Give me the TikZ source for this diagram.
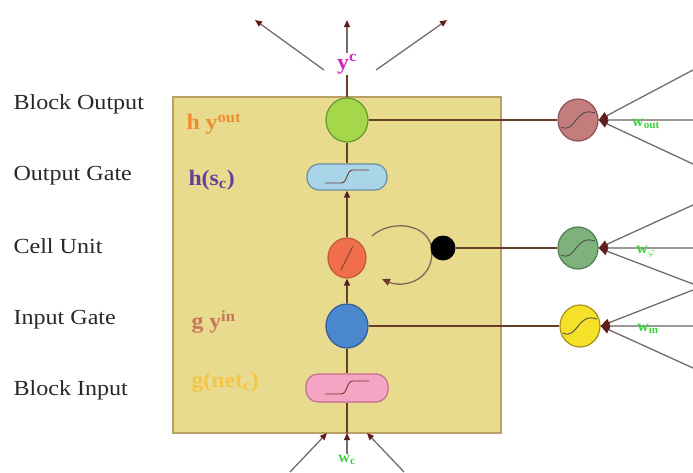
\documentclass[tikz,border=0pt]{standalone}
\usepackage{fontspec}
\setmainfont{Liberation Serif}
\newfontfamily\lblfont[FakeStretch=1.12]{Liberation Serif}
\newfontfamily\inlfont[FakeStretch=1.08]{Liberation Serif}
\usetikzlibrary{shapes.geometric,arrows.meta}
\definecolor{boxfill}{RGB}{233,219,142}
\definecolor{boxedge}{RGB}{185,160,100}
\definecolor{wirec}{RGB}{105,62,40}
\definecolor{greyc}{RGB}{115,108,104}
\definecolor{tipc}{RGB}{95,30,30}
\definecolor{textc}{RGB}{40,40,40}
\definecolor{bofill}{RGB}{165,215,75}
\definecolor{boedge}{RGB}{100,150,50}
\definecolor{ogfill}{RGB}{170,212,232}
\definecolor{ogedge}{RGB}{110,140,160}
\definecolor{cellfill}{RGB}{240,110,75}
\definecolor{celledge}{RGB}{190,90,60}
\definecolor{igfill}{RGB}{75,135,205}
\definecolor{igedge}{RGB}{50,90,150}
\definecolor{bifill}{RGB}{245,165,195}
\definecolor{biedge}{RGB}{195,110,140}
\definecolor{routfill}{RGB}{195,125,125}
\definecolor{routedge}{RGB}{140,80,80}
\definecolor{rphifill}{RGB}{125,178,125}
\definecolor{rphiedge}{RGB}{80,125,80}
\definecolor{rinfill}{RGB}{245,225,40}
\definecolor{rinedge}{RGB}{165,145,30}
\definecolor{hyout}{RGB}{240,140,50}
\definecolor{hsc}{RGB}{105,60,155}
\definecolor{gyin}{RGB}{200,120,90}
\definecolor{gnet}{RGB}{246,196,70}
\definecolor{ycc}{RGB}{210,40,190}
\definecolor{wgreen}{RGB}{60,210,60}
\begin{document}
\begin{tikzpicture}[x=1pt,y=-1pt,
  vline/.style={draw=wirec, line width=1.6pt},
  wire/.style={draw=wirec, line width=2.2pt},
  gline/.style={draw=greyc, line width=1.3pt},
  hline/.style={draw=greyc!70, line width=1.3pt},
  arr/.style={-{Triangle[length=7pt,width=6pt,color=tipc]}},
  bigarr/.style={-{Triangle[length=9pt,width=8pt,color=tipc]}},
  disc/.style={ellipse, inner sep=0pt, line width=1.2pt},
  pill/.style={rectangle, rounded corners=12pt, inner sep=0pt, line width=1.2pt},
  sidelbl/.style={anchor=west, text=textc, font=\lblfont\fontsize{21.5}{25}\selectfont},
  inlbl/.style={anchor=west, font=\inlfont\bfseries\fontsize{22}{26}\selectfont},
  wlbl/.style={text=wgreen, font=\bfseries\fontsize{16}{18}\selectfont, inner sep=1pt},
  sigp/.pic={\draw[wirec, line width=0.9pt] (-22,6) -- (-6,6) .. controls (1,6) and (-1,-7) .. (6,-7) -- (22,-7);},
  sigc/.pic={\draw[black!70, line width=0.9pt] (-17,7) .. controls (-2,14) and (-3,-14) .. (17,-7);},
  slashp/.pic={\draw[celledge!80!black, line width=1.2pt] (-6,12) -- (6,-12);}
]
\useasboundingbox (0,0) rectangle (693,472);

% main box
\node[draw=boxedge, fill=boxfill, line width=1.5pt, minimum width=328pt, minimum height=336pt, anchor=north west, inner sep=0pt] (box) at (172,96) {};

% side labels
\node[sidelbl] (l1) at (10,104) {Block Output};
\node[sidelbl] (l2) at (10,176) {Output Gate};
\node[sidelbl] (l3) at (10,246) {Cell Unit};
\node[sidelbl] (l4) at (10,320) {Input Gate};
\node[sidelbl] (l5) at (10,390) {Block Input};

% inner labels
\node[inlbl, text=hyout] (t1) at (183,124) {h y\textsuperscript{out}};
\node[inlbl, text=hsc] (t2) at (185,180) {h(s\textsubscript{c})};
\node[inlbl, text=gyin] (t3) at (188,322) {g y\textsuperscript{in}};
\node[inlbl, text=gnet] (t4) at (188,382) {g(net\textsubscript{c})};

% central column
\node[disc, fill=bofill, draw=boedge, minimum width=42pt, minimum height=44pt] (bo) at (347,120) {};
\node[pill, fill=ogfill, draw=ogedge, minimum width=80pt, minimum height=26pt] (og) at (347,177) {};
\node[disc, fill=cellfill, draw=celledge, minimum width=38pt, minimum height=40pt] (cell) at (347,258) {};
\node[disc, fill=igfill, draw=igedge, minimum width=42pt, minimum height=44pt] (ig) at (347,326) {};
\node[pill, fill=bifill, draw=biedge, minimum width=82pt, minimum height=28pt] (bi) at (347,388) {};
\pic at (og.center) {sigp};
\pic at (bi.center) {sigp};
\pic at (cell.center) {slashp};
\coordinate (bin) at (347,433);

\draw[vline] (bo.south) -- (og.north);
\draw[vline, arr] (cell.north) -- (og.south);
\draw[vline, arr] (ig.north) -- (cell.south);
\draw[vline] (bi.north) -- (ig.south);
\draw[vline] (bin) -- (bi.south);

% self loop
\coordinate (lpa) at (372,236);
\coordinate (lpb) at (382,279);
\draw[draw=wirec!80, line width=1.3pt, -{Triangle[length=8pt,width=7pt,color=wirec]}]
  (lpa) .. controls (392,218) and (432,224) .. (432,252) .. controls (432,282) and (402,288) .. (lpb);
\node[circle, fill=black, inner sep=0pt, minimum size=25pt] (dot) at (443,248) {};

% top output
\node[text=ycc, font=\inlfont\bfseries\fontsize{22}{26}\selectfont, inner sep=1pt] (yc) at (347,64) {y\textsuperscript{c}};
\coordinate (ytop) at (347,20);
\coordinate (tl0) at (324,70);
\coordinate (tl1) at (255,20);
\coordinate (tr0) at (376,70);
\coordinate (tr1) at (447,20);
\draw[vline] (bo.north) -- (yc.south);
\draw[gline, arr] (yc.north) -- (ytop);
\draw[gline, arr] (tl0) -- (tl1);
\draw[gline, arr] (tr0) -- (tr1);

% bottom input
\node[wlbl] (wc) at (347,460) {w\textsubscript{c}};
\coordinate (bl0) at (290,472);
\coordinate (bl1) at (327,433);
\coordinate (br0) at (404,472);
\coordinate (br1) at (367,433);
\draw[gline, arr] (wc.north) -- (bin);
\draw[gline, arr] (bl0) -- (bl1);
\draw[gline, arr] (br0) -- (br1);

% right gate units
\node[disc, fill=routfill, draw=routedge, minimum width=40pt, minimum height=42pt] (rout) at (578,120) {};
\node[disc, fill=rphifill, draw=rphiedge, minimum width=40pt, minimum height=42pt] (rphi) at (578,248) {};
\node[disc, fill=rinfill, draw=rinedge, minimum width=40pt, minimum height=42pt] (rin) at (580,326) {};
\pic at (rout.center) {sigc};
\pic at (rphi.center) {sigc};
\pic at (rin.center) {sigc};

\draw[wire] (bo.east) -- (rout.west);
\draw[wire] (dot.east) -- (rphi.west);
\draw[wire] (ig.east) -- (rin.west);

\coordinate (ro1) at (693,70);
\coordinate (ro2) at (693,120);
\coordinate (ro3) at (693,164);
\coordinate (rp1) at (693,205);
\coordinate (rp2) at (693,248);
\coordinate (rp3) at (693,284);
\coordinate (ri1) at (693,290);
\coordinate (ri2) at (693,326);
\coordinate (ri3) at (693,368);
\draw[gline, bigarr] (ro1) -- (rout.east);
\draw[hline, bigarr] (ro2) -- (rout.east);
\draw[gline, bigarr] (ro3) -- (rout.east);
\draw[gline, bigarr] (rp1) -- (rphi.east);
\draw[hline, bigarr] (rp2) -- (rphi.east);
\draw[gline, bigarr] (rp3) -- (rphi.east);
\draw[gline, bigarr] (ri1) -- (rin.east);
\draw[hline, bigarr] (ri2) -- (rin.east);
\draw[gline, bigarr] (ri3) -- (rin.east);

\node[wlbl] (wout) at (646,124) {w\textsubscript{out}};
\node[wlbl] (wphi) at (646,252) {w\textsubscript{$\varphi$}};
\node[wlbl] (win) at (648,329) {w\textsubscript{in}};
\end{tikzpicture}
\end{document}
